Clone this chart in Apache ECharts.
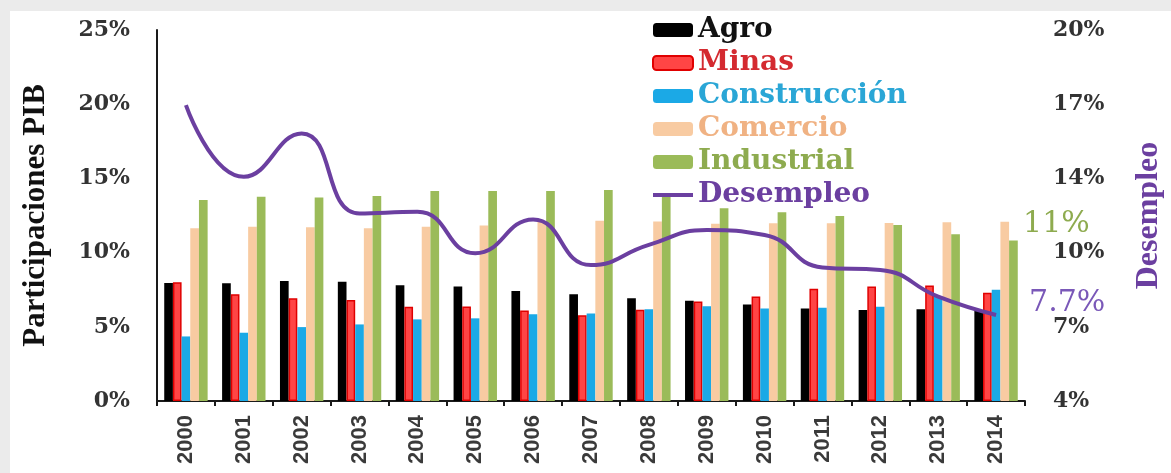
<!DOCTYPE html>
<html>
<head>
<meta charset="utf-8">
<script src="https://cdn.jsdelivr.net/npm/echarts@6/dist/echarts.min.js"></script>
<style>
  html, body { margin: 0; padding: 0; width: 1171px; height: 473px; background: #ebebeb; overflow: hidden; }
  #chart { position: absolute; left: 10px; top: 11px; width: 1161px; height: 462px; background: #ffffff; }
</style>
</head>
<body>
<div id="chart"></div>
<script>
const years = ['2000','2001','2002','2003','2004','2005','2006','2007','2008','2009','2010','2011','2012','2013','2014'];
const agro = [7.95, 7.93, 8.09, 8.04, 7.8, 7.72, 7.41, 7.19, 6.92, 6.76, 6.5, 6.24, 6.13, 6.18, 6.08];
const minas = [8.0, 7.2, 6.92, 6.8, 6.35, 6.37, 6.1, 5.78, 6.15, 6.7, 7.05, 7.56, 7.72, 7.78, 7.3];
const construccion = [4.35, 4.6, 4.98, 5.16, 5.5, 5.57, 5.84, 5.9, 6.18, 6.38, 6.24, 6.29, 6.35, 7.0, 7.5];
const comercio = [11.64, 11.75, 11.7, 11.64, 11.75, 11.82, 12.1, 12.15, 12.1, 11.95, 11.97, 11.97, 12.0, 12.05, 12.08];
const industrial = [13.54, 13.77, 13.72, 13.81, 14.15, 14.15, 14.15, 14.22, 13.77, 12.99, 12.72, 12.47, 11.86, 11.23, 10.82];
const desempleo = [16.76, 13.67, 15.54, 12.09, 12.16, 10.37, 11.83, 9.86, 10.73, 11.37, 11.16, 9.76, 9.65, 8.5, 7.71];

const seriesNames = ['Agro', 'Minas', 'Construcción', 'Comercio', 'Industrial', 'Desempleo'];
const textColors = ['#111111', '#D42A30', '#2AA6D6', '#F0B283', '#8EAB4F', '#6B3FA0'];

const chart = echarts.init(document.getElementById('chart'));

const industrialData = industrial.map((v, i) => i === industrial.length - 1 ? {
  value: v,
  label: {
    show: true,
    position: [14, -16],
    align: 'left',
    verticalAlign: 'middle',
    formatter: p => Math.round(p.value) + '%',
    color: '#8EAB4F',
    fontFamily: 'DejaVu Serif',
    fontSize: 30
  }
} : v);

const tickLabelStyle = {
  fontFamily: 'DejaVu Serif',
  fontWeight: 'bold',
  fontSize: 22,
  color: '#333333'
};

const lineIcon = 'path://M0,0 L1,0 L1,0.01 Z M0,5 L40,5 L40,9 L0,9 Z M0,14 L1,14 L1,13.99 Z';

chart.setOption({
  animation: false,
  backgroundColor: '#ffffff',
  grid: { left: 147, right: 146, top: 19, bottom: 72, containLabel: false, outerBoundsMode: 'none' },
  legend: {
    orient: 'vertical',
    left: 637,
    top: 0,
    itemWidth: 40,
    itemHeight: 14,
    itemGap: 5,
    textStyle: { fontFamily: 'DejaVu Serif', fontWeight: 'bold', fontSize: 28 },
    data: seriesNames.map((n, i) => {
      const item = { name: n, textStyle: { color: textColors[i] } };
      if (n === 'Desempleo') item.icon = lineIcon;
      return item;
    })
  },
  xAxis: {
    type: 'category',
    data: years,
    boundaryGap: true,
    axisLine: { lineStyle: { color: '#1a1a1a', width: 2 } },
    axisTick: { show: true, alignWithLabel: false, length: 5, lineStyle: { color: '#1a1a1a', width: 2 } },
    axisLabel: {
      rotate: 90,
      interval: 0,
      margin: 14,
      fontFamily: 'Liberation Sans',
      fontWeight: 'bold',
      fontSize: 22,
      color: '#3a3a3a'
    },
    splitLine: { show: false }
  },
  yAxis: [
    {
      type: 'value',
      min: 0,
      max: 25,
      interval: 5,
      name: 'Participaciones PIB',
      nameLocation: 'middle',
      nameRotate: 90,
      nameGap: 106,
      nameTextStyle: { fontFamily: 'Liberation Serif', fontWeight: 'bold', fontSize: 31, color: '#111111' },
      axisLine: { show: true, lineStyle: { color: '#1a1a1a', width: 2 } },
      axisTick: { show: false },
      splitLine: { show: false },
      axisLabel: Object.assign({ margin: 27, formatter: v => v + '%' }, tickLabelStyle)
    },
    {
      type: 'value',
      min: 4,
      max: 20,
      interval: 3.2,
      name: 'Desempleo',
      nameLocation: 'middle',
      nameRotate: 90,
      nameGap: 108,
      nameTextStyle: { fontFamily: 'Liberation Serif', fontWeight: 'bold', fontSize: 32, color: '#6B3FA0' },
      axisLine: { show: false },
      axisTick: { show: false },
      splitLine: { show: false },
      axisLabel: Object.assign({ margin: 28, formatter: v => Math.round(v) + '%' }, tickLabelStyle)
    }
  ],
  series: [
    { name: 'Agro', type: 'bar', data: agro, barGap: '0%', barCategoryGap: '25%', itemStyle: { color: '#000000' } },
    { name: 'Minas', type: 'bar', data: minas, itemStyle: { color: '#FF4545', borderColor: '#E00000', borderWidth: 1.5 } },
    { name: 'Construcción', type: 'bar', data: construccion, itemStyle: { color: '#1BA9E6' } },
    { name: 'Comercio', type: 'bar', data: comercio, itemStyle: { color: '#F8CBA2' } },
    { name: 'Industrial', type: 'bar', data: industrialData, itemStyle: { color: '#9BBB59' } },
    {
      name: 'Desempleo',
      type: 'line',
      yAxisIndex: 1,
      data: desempleo,
      smooth: 0.5,
      symbol: 'none',
      lineStyle: { color: '#6B3FA0', width: 4 },
      itemStyle: { color: '#6B3FA0' },
      endLabel: {
        show: true,
        formatter: p => Number(p.value).toFixed(1) + '%',
        offset: [25, -12],
        align: 'left',
        verticalAlign: 'middle',
        color: '#7A58B8',
        fontFamily: 'DejaVu Serif',
        fontSize: 30
      },
      z: 5
    }
  ]
});
</script>
</body>
</html>
